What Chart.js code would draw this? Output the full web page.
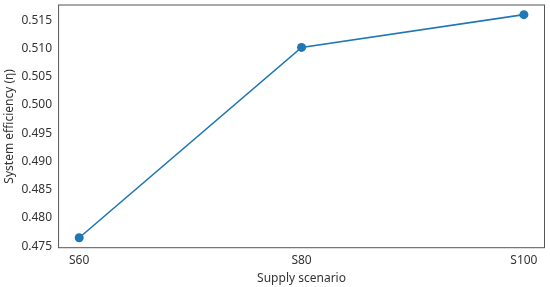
<!DOCTYPE html>
<html>
<head>
<meta charset="utf-8">
<script src="https://cdn.jsdelivr.net/npm/chart.js@4.4.1/dist/chart.umd.min.js"></script>
<style>
  html, body { margin: 0; padding: 0; background: #fff; }
  #wrap { width: 550px; height: 287px; }
</style>
</head>
<body>
<div id="wrap"><canvas id="myChart"></canvas></div>
<script>
// data
const scenarios = ['S60', 'S80', 'S100'];
const efficiency = [0.4765, 0.5102, 0.5160];
const yTicks = [0.475, 0.480, 0.485, 0.490, 0.495, 0.500, 0.505, 0.510, 0.515];

const lineColor = '#1f77b4';
const textColor = '#333333';
const frameColor = '#555555';

// box round the plot area, like matplotlib's spines
const frame = {
    id: 'frame',
    afterDatasetsDraw(chart) {
        const a = chart.chartArea;
        const c = chart.ctx;
        c.save();
        c.strokeStyle = frameColor;
        c.lineWidth = 1;
        c.strokeRect(a.left + 0.5, a.top + 0.5, a.right - a.left - 1, a.bottom - a.top - 1);
        c.restore();
    }
};

Chart.defaults.font.family = '"Noto Sans", "Open Sans", sans-serif';
Chart.defaults.color = textColor;

new Chart(document.getElementById('myChart'), {
    type: 'line',
    data: {
        datasets: [{
            data: efficiency.map((v, i) => ({ x: i, y: v })),
            borderColor: lineColor,
            backgroundColor: lineColor,
            borderWidth: 1.6,
            pointRadius: 4.5,
            pointHoverRadius: 4.5,
            pointBorderWidth: 0,
            fill: false,
            tension: 0
        }]
    },
    options: {
        responsive: true,
        maintainAspectRatio: false,
        animation: false,
        layout: { padding: { top: 1, right: 5, left: 2, bottom: 1 } },
        plugins: { legend: { display: false }, tooltip: { enabled: false } },
        scales: {
            x: {
                type: 'linear',
                min: -0.095,
                max: 2.095,
                afterBuildTicks: (axis) => { axis.ticks = scenarios.map((s, i) => ({ value: i })); },
                ticks: {
                    callback: (v) => scenarios[v],
                    font: { size: 12 },
                    color: textColor,
                    padding: 1,
                    maxRotation: 0
                },
                grid: { display: false, drawTicks: true, tickLength: 4, tickColor: frameColor },
                border: { display: false },
                title: { display: true, text: 'Supply scenario', font: { size: 12 }, color: textColor, padding: { top: 3, bottom: 0 } }
            },
            y: {
                min: 0.47465,
                max: 0.5178,
                afterBuildTicks: (axis) => { axis.ticks = yTicks.map(v => ({ value: v })); },
                afterFit: (axis) => { axis.paddingTop = 0; axis.paddingBottom = 0; },
                ticks: {
                    callback: (v) => v.toFixed(3),
                    font: { size: 12 },
                    color: textColor,
                    padding: 2
                },
                grid: { display: false, drawTicks: true, tickLength: 4, tickColor: frameColor },
                border: { display: false },
                title: { display: true, text: 'System efficiency (η)', font: { size: 12 }, color: textColor, padding: { top: 0, bottom: 3 } }
            }
        }
    },
    plugins: [frame]
});
</script>
</body>
</html>
